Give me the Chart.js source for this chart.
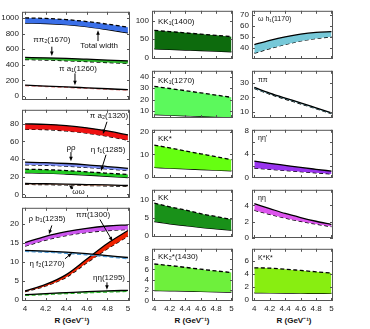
<!DOCTYPE html>
<html><head><meta charset="utf-8">
<script src="https://cdn.jsdelivr.net/npm/chart.js@4"></script>
<style>
body{margin:0;background:#fff;width:370px;height:329px;position:relative;overflow:hidden;font-family:"Liberation Sans",Arial,sans-serif}
canvas{position:absolute}
.ax{position:absolute;top:314px;font:bold 8px "Liberation Sans",Arial,sans-serif;color:#111;transform:translateX(-50%);white-space:nowrap}
</style></head><body>
<div class="ax" style="left:72px">R (GeV⁻¹)</div>
<div class="ax" style="left:192px">R (GeV⁻¹)</div>
<div class="ax" style="left:294px">R (GeV⁻¹)</div>
<script>
const R = [4.0, 4.2, 4.4, 4.6, 4.8, 5.0];
const X_TICKS = [4.0, 4.2, 4.4, 4.6, 4.8, 5.0];
const X_TICK_LABELS = ['4', '4.2', '4.4', '4.6', '4.8', '5'];

// left column, top panel
const totalWidthUpper = [1002, 995, 980, 955, 922, 882];
const totalWidthLower = [935, 930, 915, 890, 852, 810];
const pipi2Upper = [495, 490, 483, 473, 462, 450];
const pipi2Lower = [468, 462, 453, 442, 430, 418];
const pia1Upper = [140, 129, 118, 106, 94, 82];
const pia1Lower = [134, 123, 112, 100, 88, 76];
const L1_YTICKS = [0, 200, 400, 600, 800, 1000];

// left column, middle panel
const pia2Upper = [80, 79.5, 78, 75.5, 72, 67.5];
const pia2Lower = [74, 73.5, 72, 69.5, 66, 61.5];
const rhorhoUpper = [36.5, 36, 35, 33.5, 31.5, 29.5];
const rhorhoLower = [33.5, 33, 32, 30.5, 28.8, 27];
const etaf1Upper = [28.5, 28, 27, 25.5, 24, 22.5];
const etaf1Lower = [24.5, 24, 23, 21.8, 20.5, 19];
const omegaomegaUpper = [12.3, 12, 11.6, 11.1, 10.6, 10];
const omegaomegaLower = [11.3, 11, 10.6, 10.1, 9.6, 9.1];
const L2_YTICKS = [0, 20, 40, 60, 80];

// left column, bottom panel
const rhob1Upper = [15.1, 16.8, 18.0, 18.9, 19.5, 19.8];
const rhob1Lower = [14.2, 15.8, 17.0, 17.8, 18.3, 18.6];
const etaf2Upper = [13.1, 12.9, 12.6, 12.2, 11.7, 11.2];
const etaf2Lower = [12.8, 12.6, 12.3, 11.9, 11.4, 10.9];
const pipi1300Upper = [2.4, 4.1, 6.7, 10.8, 14.9, 18.3];
const pipi1300Lower = [2.2, 3.7, 6.0, 9.8, 13.5, 16.8];
const etaeta1295Upper = [1.4, 1.7, 1.95, 2.2, 2.4, 2.55];
const etaeta1295Lower = [1.2, 1.45, 1.7, 1.9, 2.1, 2.3];
const L3_YTICKS = [0, 5, 10, 15, 20];

// middle column
const KK1400Upper = [74, 70.7, 67.3, 64, 60.5, 57];
const KK1400Lower = [23.5, 22, 20.5, 19, 17.3, 15.5];
const M1_YTICKS = [0, 50, 100];
const KK1270Upper = [31.5, 29.7, 27.8, 25.9, 23.9, 21.9];
const KK1270Lower = [6.7, 6.2, 5.7, 5.2, 4.7, 4.2];
const M2_YTICKS = [10, 20, 30, 40];
const KKstarUpper = [14.2, 12.9, 11.6, 10.3, 9.0, 7.7];
const KKstarLower = [4.2, 3.9, 3.6, 3.3, 3.0, 2.7];
const M3_YTICKS = [0, 10, 20];
const KKUpper = [9.0, 8.0, 7.1, 6.1, 5.3, 4.5];
const KKLower = [3.9, 3.3, 2.8, 2.3, 1.9, 1.5];
const M4_YTICKS = [0, 5, 10];
const KK2star1430Upper = [7.05, 6.75, 6.4, 6.05, 5.7, 5.4];
const KK2star1430Lower = [1.9, 1.85, 1.8, 1.72, 1.65, 1.6];
const M5_YTICKS = [0, 2, 4, 6, 8];

// right column
const omegah1Upper = [43.1, 47.0, 50.3, 52.8, 54.3, 54.9];
const omegah1Lower = [35.3, 39.5, 43.3, 46.5, 48.8, 50.2];
const R1_YTICKS = [40, 50, 60, 70];
const pipiUpper = [27, 23, 19.5, 16.2, 12.7, 9.2];
const pipiLower = [26.3, 22.3, 18.8, 15.5, 12.1, 8.6];
const R2_YTICKS = [10, 20, 30];
const etaetapUpper = [2.78, 2.4, 2.05, 1.7, 1.38, 1.07];
const etaetapLower = [1.6, 1.38, 1.17, 0.97, 0.78, 0.6];
const R3_YTICKS = [0, 2, 4, 6, 8];
const etaetaUpper = [4.2, 3.6, 3.0, 2.5, 2.05, 1.65];
const etaetaLower = [3.4, 2.9, 2.45, 2.05, 1.7, 1.4];
const R4_YTICKS = [0, 2, 4];
const KstarKstarUpper = [4.9, 4.85, 4.7, 4.5, 4.3, 4.1];
const KstarKstarLower = [1.1, 1.08, 1.06, 1.04, 1.02, 1.0];
const R5_YTICKS = [0, 2, 4, 6];

const FONT = '"Liberation Sans", Arial, sans-serif';

function line(arr, dashed, color, fill) {
  return {
    data: R.map((r, i) => ({x: r, y: arr[i]})),
    borderColor: color || '#000',
    borderWidth: 1.3,
    borderDash: dashed ? [4, 2.5] : [],
    pointRadius: 0,
    cubicInterpolationMode: 'monotone',
    fill: fill ? '+1' : false,
    backgroundColor: fill || 'transparent'
  };
}
function band(upper, lower, fill, upDash, lowDash, upColor, lowColor) {
  return [line(upper, upDash, upColor, fill), line(lower, lowDash, lowColor, null)];
}

const framePlugin = {
  id: 'frame',
  afterDraw(chart) {
    const o = chart.options.plugins.frame;
    const {ctx, chartArea: a} = chart;
    const xs = chart.scales.x, ys = chart.scales.y;
    ctx.save();
    ctx.strokeStyle = '#555'; ctx.lineWidth = 1;
    ctx.strokeRect(a.left + 0.5, a.top + 0.5, a.right - a.left - 1, a.bottom - a.top - 1);
    ctx.beginPath();
    X_TICKS.forEach(v => {
      const px = Math.round(xs.getPixelForValue(v)) + 0.5;
      ctx.moveTo(px, a.top); ctx.lineTo(px, a.top + 3);
      ctx.moveTo(px, a.bottom); ctx.lineTo(px, a.bottom - 3);
    });
    o.yt.forEach(v => {
      const py = Math.round(ys.getPixelForValue(v)) + 0.5;
      ctx.moveTo(a.left, py); ctx.lineTo(a.left + 3, py);
      ctx.moveTo(a.right, py); ctx.lineTo(a.right - 3, py);
    });
    ctx.stroke();
    ctx.fillStyle = '#111';
    ctx.textBaseline = 'middle';
    if (o.corner) {
      ctx.font = o.corner.size + 'px ' + FONT;
      ctx.textAlign = 'left';
      ctx.fillText(o.corner.t, a.left + 6, a.top + o.corner.dy);
    }
    (o.labels || []).forEach(l => {
      ctx.font = (l.size || 8) + 'px ' + FONT;
      ctx.textAlign = 'center';
      ctx.fillText(l.t, xs.getPixelForValue(l.x), ys.getPixelForValue(l.y));
    });
    ctx.strokeStyle = '#000'; ctx.fillStyle = '#000'; ctx.lineWidth = 1;
    (o.arrows || []).forEach(ar => {
      const x1 = xs.getPixelForValue(ar[0]), y1 = ys.getPixelForValue(ar[1]);
      const x2 = xs.getPixelForValue(ar[2]), y2 = ys.getPixelForValue(ar[3]);
      const ang = Math.atan2(y2 - y1, x2 - x1);
      ctx.beginPath(); ctx.moveTo(x1, y1);
      ctx.lineTo(x2 - 3 * Math.cos(ang), y2 - 3 * Math.sin(ang)); ctx.stroke();
      ctx.beginPath();
      ctx.moveTo(x2, y2);
      ctx.lineTo(x2 - 4.5 * Math.cos(ang) + 1.8 * Math.sin(ang), y2 - 4.5 * Math.sin(ang) - 1.8 * Math.cos(ang));
      ctx.lineTo(x2 - 4.5 * Math.cos(ang) - 1.8 * Math.sin(ang), y2 - 4.5 * Math.sin(ang) + 1.8 * Math.cos(ang));
      ctx.closePath(); ctx.fill();
    });
    ctx.restore();
  }
};

function makePanel(cfg) {
  const [bx, by, bw, bh] = cfg.box;
  const padL = 24, padT = 6, padR = 6, padB = cfg.showX ? 16 : 6;
  const c = document.createElement('canvas');
  const W = bw + padL + padR, H = bh + padT + padB;
  c.width = W; c.height = H;
  c.style.left = (bx - padL) + 'px'; c.style.top = (by - padT) + 'px';
  c.style.width = W + 'px'; c.style.height = H + 'px';
  document.body.appendChild(c);
  new Chart(c, {
    type: 'line',
    data: {datasets: cfg.bands.flat()},
    options: {
      responsive: false, animation: false, maintainAspectRatio: false,
      layout: {padding: {left: 0, top: padT, right: padR, bottom: cfg.showX ? 0 : padB}},
      plugins: {
        legend: {display: false}, tooltip: {enabled: false},
        frame: {yt: cfg.yt, labels: cfg.labels, arrows: cfg.arrows, corner: cfg.corner}
      },
      scales: {
        x: {
          type: 'linear', min: 3.97, max: 5.02, display: !!cfg.showX,
          afterBuildTicks: s => { s.ticks = X_TICKS.map(v => ({value: v})); },
          afterFit: s => { s.height = padB; },
          grid: {display: false, drawTicks: false}, border: {display: false},
          ticks: {padding: 3, color: '#222', font: {family: FONT, size: 8}, maxRotation: 0, autoSkip: false,
                  callback: (v, i) => X_TICK_LABELS[i]}
        },
        y: {
          type: 'linear', min: cfg.y[0], max: cfg.y[1],
          afterBuildTicks: s => { s.ticks = cfg.yt.map(v => ({value: v})); },
          afterFit: s => { s.width = padL; },
          grid: {display: false, drawTicks: false}, border: {display: false},
          ticks: {padding: 3, color: '#222', font: {family: FONT, size: 8}, callback: v => String(v)}
        }
      }
    },
    plugins: [framePlugin]
  });
}

const panels = [
  {box: [22, 10, 108, 96], y: [-50, 1080], yt: L1_YTICKS,
   bands: [band(totalWidthUpper, totalWidthLower, '#3a6fe8', true, false),
           band(pipi2Upper, pipi2Lower, '#2db52d', false, true),
           band(pia1Upper, pia1Lower, '#f3a0a0', false, true, '#000', '#e07070')],
   labels: [{t: 'ππ₂(1670)', x: 4.26, y: 727}, {t: 'Total width', x: 4.72, y: 640}, {t: 'π a₁(1260)', x: 4.514, y: 356}],
   arrows: [[4.26, 633, 4.26, 515], [4.709, 705, 4.709, 845], [4.485, 291, 4.485, 138]]},
  {box: [22, 108, 108, 96], y: [-4.2, 96], yt: L2_YTICKS,
   bands: [band(pia2Upper, pia2Lower, '#ee1111', false, true),
           band(rhorhoUpper, rhorhoLower, '#7b8cf5', false, true),
           band(etaf1Upper, etaf1Lower, '#22cc22', true, false),
           band(omegaomegaUpper, omegaomegaLower, '#f5b090', false, true)],
   labels: [{t: 'π a₂(1320)', x: 4.816, y: 88.7}, {t: 'ρρ', x: 4.446, y: 53.2}, {t: 'η f₁(1285)', x: 4.806, y: 51.1}, {t: 'ωω', x: 4.52, y: 2.3}],
   arrows: [[4.796, 82.4, 4.757, 68.5], [4.446, 48.0, 4.446, 37.5], [4.787, 44.9, 4.738, 26.5], [4.466, 6.2, 4.427, 10.4]]},
  {box: [22, 206, 108, 95], y: [-0.26, 24.3], yt: L3_YTICKS, showX: true,
   bands: [band(rhob1Upper, rhob1Lower, '#cc55ee', false, true),
           band(etaf2Upper, etaf2Lower, '#66aadd', false, true, '#000', '#3388cc'),
           band(pipi1300Upper, pipi1300Lower, '#ee2200', false, true),
           band(etaeta1295Upper, etaeta1295Lower, '#44cc44', false, true, '#000', '#22aa22')],
   labels: [{t: 'ρ b₁(1235)', x: 4.213, y: 21.46}, {t: 'ππ(1300)', x: 4.66, y: 22.5}, {t: 'η f₂(1270)', x: 4.213, y: 9.56}, {t: 'ηη(1295)', x: 4.816, y: 5.95}],
   arrows: [[4.26, 19.65, 4.232, 17.3], [4.728, 21.2, 4.85, 15.5], [4.388, 10.86, 4.456, 12.4], [4.796, 4.65, 4.796, 2.7]]},

  {box: [152, 9, 81, 56], y: [-4, 127.5], yt: M1_YTICKS,
   bands: [band(KK1400Upper, KK1400Lower, '#0d6b0d', true, false)], corner: {t: 'KK₁(1400)', dy: 11, size: 8}},
  {box: [152, 69, 81, 55], y: [3.7, 45.3], yt: M2_YTICKS,
   bands: [band(KK1270Upper, KK1270Lower, '#5cf95c', true, false)], corner: {t: 'KK₁(1270)', dy: 10, size: 8}},
  {box: [152, 128, 81, 56], y: [-0.5, 21], yt: M3_YTICKS,
   bands: [band(KKstarUpper, KKstarLower, '#66ff11', true, false)], corner: {t: 'KK*', dy: 9, size: 8}},
  {box: [152, 188, 81, 55], y: [-0.36, 12.7], yt: M4_YTICKS,
   bands: [band(KKUpper, KKLower, '#199119', true, false)], corner: {t: 'KK', dy: 8, size: 8}},
  {box: [152, 247, 81, 54], y: [-0.13, 10], yt: M5_YTICKS, showX: true,
   bands: [band(KK2star1430Upper, KK2star1430Lower, '#6ef03c', true, false)], corner: {t: 'KK₂*(1430)', dy: 8, size: 8}},

  {box: [252, 9, 81, 56], y: [30, 74], yt: R1_YTICKS,
   bands: [band(omegah1Upper, omegah1Lower, '#76c8d8', false, true)], corner: {t: 'ω h₁(1170)', dy: 8, size: 7}},
  {box: [252, 69, 81, 55], y: [5.6, 38.6], yt: R2_YTICKS,
   bands: [band(pipiUpper, pipiLower, '#76c8d8', false, true)], corner: {t: 'ππ', dy: 9, size: 7}},
  {box: [252, 128, 81, 56], y: [-0.1, 8.1], yt: R3_YTICKS,
   bands: [band(etaetapUpper, etaetapLower, '#9933ee', false, true)], corner: {t: "ηη'", dy: 8, size: 7}},
  {box: [252, 188, 81, 56], y: [0, 5.9], yt: R4_YTICKS,
   bands: [band(etaetaUpper, etaetaLower, '#dd55ee', false, true)], corner: {t: 'ηη', dy: 8, size: 7}},
  {box: [252, 247, 81, 54], y: [-0.15, 7.8], yt: R5_YTICKS, showX: true,
   bands: [band(KstarKstarUpper, KstarKstarLower, '#88ee11', true, false)], corner: {t: 'K*K*', dy: 9, size: 7}}
];

panels.forEach(makePanel);
</script>
</body></html>
